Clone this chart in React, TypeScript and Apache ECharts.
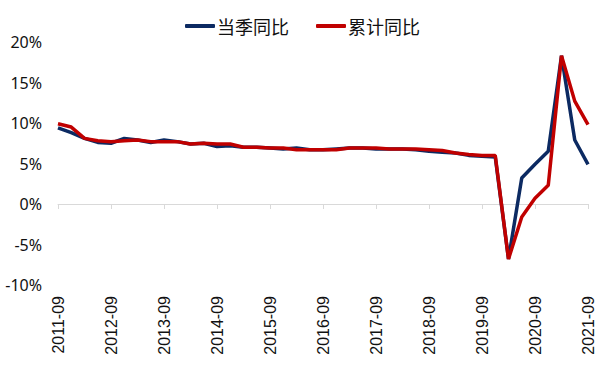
import React, { useEffect, useRef } from "react";
import * as echarts from "echarts";

const quarters: string[] = [];
for (let y = 2011; y <= 2021; y++) {
  for (const m of ["03", "06", "09", "12"]) {
    const q = `${y}-${m}`;
    if (q >= "2011-09" && q <= "2021-09") quarters.push(q);
  }
}

const seriesNames = ["当季同比", "累计同比"];

const quarterlyYoY = [
  9.4, 8.8,
  8.1, 7.6, 7.5, 8.1,
  7.9, 7.6, 7.9, 7.7,
  7.4, 7.5, 7.1, 7.2,
  7.0, 7.0, 6.9, 6.8,
  6.9, 6.7, 6.7, 6.8,
  6.9, 6.9, 6.8, 6.8,
  6.8, 6.7, 6.5, 6.4,
  6.3, 6.0, 5.9, 5.8,
  -6.8, 3.2, 4.9, 6.5,
  18.3, 7.9, 4.9,
];

const cumulativeYoY = [
  9.9, 9.5,
  8.1, 7.8, 7.7, 7.8,
  7.9, 7.7, 7.7, 7.7,
  7.4, 7.5, 7.4, 7.4,
  7.0, 7.0, 6.9, 6.9,
  6.7, 6.7, 6.7, 6.7,
  6.9, 6.9, 6.9, 6.8,
  6.8, 6.8, 6.7, 6.6,
  6.3, 6.1, 6.0, 6.0,
  -6.8, -1.6, 0.7, 2.3,
  18.3, 12.7, 9.8,
];

const colors = ["#0C2A62", "#C00000"];

export default function App() {
  const ref = useRef<HTMLDivElement>(null);
  useEffect(() => {
    if (!ref.current) return;
    const chart = echarts.init(ref.current, undefined, { renderer: "svg" });
    chart.setOption({
      animation: false,
      backgroundColor: "#ffffff",
      legend: {
        top: 12,
        left: 180,
        itemWidth: 30,
        itemHeight: 4,
        itemGap: 27,
        icon: "roundRect",
        textStyle: {
          fontSize: 18,
          color: "#111",
          fontFamily: "Noto Sans CJK SC",
          padding: [0, 0, 0, -3],
        },
        data: seriesNames,
      },
      grid: { left: 58, right: 11, top: 42, bottom: 105, containLabel: false },
      xAxis: [
        {
          type: "category",
          data: quarters,
          boundaryGap: false,
          axisLine: { show: false, onZero: false },
          axisTick: { show: false },
          axisLabel: {
            rotate: 90,
            interval: 3,
            margin: 11,
            fontSize: 16,
            color: "#111",
            fontFamily: "Liberation Sans",
          },
        },
        {
          type: "category",
          data: quarters,
          position: "bottom",
          boundaryGap: false,
          axisLine: { show: true, onZero: true, lineStyle: { color: "#D9D9D9", width: 1 } },
          axisTick: { show: true, interval: 3, length: 5, lineStyle: { color: "#D9D9D9" } },
          axisLabel: { show: false },
        },
      ],
      yAxis: {
        type: "value",
        min: -10,
        max: 20,
        interval: 5,
        splitLine: { show: false },
        axisLine: { show: false },
        axisTick: { show: false },
        axisLabel: {
          formatter: "{value}%",
          margin: 16,
          fontSize: 16,
          color: "#111",
          fontFamily: "Noto Sans",
        },
      },
      series: [
        {
          name: seriesNames[0],
          type: "line",
          data: quarterlyYoY,
          showSymbol: false,
          symbol: "none",
          lineStyle: { width: 3.5, color: colors[0] },
          itemStyle: { color: colors[0] },
          xAxisIndex: 0,
        },
        {
          name: seriesNames[1],
          type: "line",
          data: cumulativeYoY,
          showSymbol: false,
          symbol: "none",
          lineStyle: { width: 3.5, color: colors[1] },
          itemStyle: { color: colors[1] },
          xAxisIndex: 0,
        },
      ],
    });
    return () => chart.dispose();
  }, []);
  return <div ref={ref} style={{ width: 599, height: 390, position: "absolute", left: 0, top: 0 }} />;
}
